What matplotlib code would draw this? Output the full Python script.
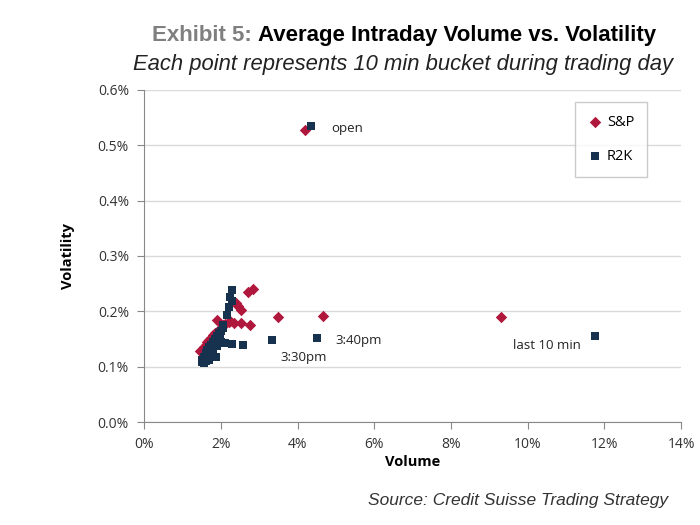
import matplotlib
matplotlib.use("Agg")
import matplotlib.pyplot as plt
from matplotlib.ticker import FuncFormatter, MultipleLocator

# Volume (%) and volatility (%) per 10-min bucket
sp_volume = [4.20, 9.30, 4.67, 3.50, 2.85, 2.70, 2.52, 2.45, 2.40, 2.76, 2.52, 2.34,
             2.20, 2.10, 1.90, 2.00, 1.95, 1.85, 1.80, 1.75, 1.70, 1.65, 1.60, 1.55,
             1.50, 1.45, 1.58, 1.68, 1.78, 1.88, 1.62, 1.72, 2.05, 2.25, 1.98]
sp_volatility = [0.527, 0.190, 0.191, 0.190, 0.240, 0.234, 0.203, 0.210, 0.215, 0.176, 0.179, 0.179,
                 0.180, 0.178, 0.185, 0.170, 0.165, 0.160, 0.158, 0.152, 0.148, 0.145, 0.140, 0.136,
                 0.130, 0.128, 0.133, 0.142, 0.150, 0.155, 0.138, 0.146, 0.175, 0.182, 0.168]

r2k_volume = [4.36, 11.76, 4.50, 3.32, 2.57, 2.29, 2.29, 2.29, 2.22, 2.15, 2.25,
              2.05, 2.00, 1.95, 1.90, 1.85, 1.80, 1.75, 1.70, 1.65, 1.60, 1.55, 1.50,
              1.50, 1.60, 1.70, 1.87, 2.00, 2.10, 1.90, 1.80, 1.98, 1.75, 2.05, 1.55]
r2k_volatility = [0.534, 0.156, 0.151, 0.149, 0.139, 0.141, 0.239, 0.218, 0.208, 0.194, 0.225,
                  0.170, 0.165, 0.160, 0.155, 0.150, 0.145, 0.140, 0.135, 0.130, 0.125, 0.118, 0.112,
                  0.108, 0.110, 0.112, 0.117, 0.145, 0.142, 0.138, 0.128, 0.158, 0.122, 0.175, 0.107]

annotations = [("open", 5.28, 0.530), ("3:40pm", 5.6, 0.148),
               ("3:30pm", 4.16, 0.116), ("last 10 min", 10.5, 0.138)]

RED = "#B0173C"
NAVY = "#17324F"
GRAY = "#7F7F7F"
SANS = ["Open Sans", "DejaVu Sans"]

fig = plt.figure(figsize=(7, 5.25), dpi=100)
ax = fig.add_axes([0.206, 0.196, 0.767, 0.633])

ax.scatter(sp_volume, sp_volatility, marker="D", s=34, color=RED, label="S&P", zorder=3, linewidths=0)
ax.scatter(r2k_volume, r2k_volatility, marker="s", s=40, color=NAVY, label="R2K", zorder=4, linewidths=0)

for txt, x, y in annotations:
    ax.text(x, y, txt, ha="center", va="center", fontsize=9.5, color="#222222", family=SANS)

ax.set_xlim(0, 14)
ax.set_ylim(0, 0.6)
ax.xaxis.set_major_locator(MultipleLocator(2))
ax.yaxis.set_major_locator(MultipleLocator(0.1))
ax.xaxis.set_major_formatter(FuncFormatter(lambda v, p: f"{v:.0f}%"))
ax.yaxis.set_major_formatter(FuncFormatter(lambda v, p: f"{v:.1f}%"))

ax.grid(axis="y", color="#D9D9D9", linewidth=1.0)
ax.grid(axis="x", visible=False)
ax.set_axisbelow(True)
for side in ["top", "right"]:
    ax.spines[side].set_visible(False)
for side in ["left", "bottom"]:
    ax.spines[side].set_color("#888888")
ax.tick_params(axis="both", colors="#888888", labelcolor="#333333", labelsize=10, length=5,
               direction="out", pad=6)
for lbl in ax.get_xticklabels() + ax.get_yticklabels():
    lbl.set_family(SANS)

ax.set_xlabel("Volume", fontsize=10.5, fontweight="bold", family=SANS, labelpad=2)
ax.set_ylabel("Volatility", fontsize=10.5, fontweight="bold", family=SANS, labelpad=16)

leg = ax.legend(loc="upper right", bbox_to_anchor=(0.937, 0.964), borderaxespad=0,
                frameon=True, fancybox=False, labelspacing=1.3, handletextpad=0.3,
                handlelength=1.0, borderpad=0.9, prop={"family": SANS, "size": 10.5})
leg.get_frame().set_edgecolor("#BFBFBF")
leg.get_frame().set_linewidth(1.0)

narrow = ["Liberation Sans Narrow", "Liberation Sans", "DejaVu Sans"]
t1 = fig.text(0.217, 0.932, "Exhibit 5: ", fontsize=16, fontweight="bold", color=GRAY,
              family=narrow, ha="left", va="center")
fig.canvas.draw()
bb = t1.get_window_extent()
x2 = bb.x1 / fig.bbox.width
fig.text(x2, 0.932, "Average Intraday Volume vs. Volatility", fontsize=16, fontweight="bold",
         color="black", family=narrow, ha="left", va="center")
fig.text(0.576, 0.878, "Each point represents 10 min bucket during trading day", fontsize=15.8,
         style="italic", color="#222222", family=narrow, ha="center", va="center")
fig.text(0.955, 0.047, "Source: Credit Suisse Trading Strategy", fontsize=12.5,
         style="italic", color="#333333", family=narrow, ha="right", va="center")

fig.savefig("out.png", dpi=100)
